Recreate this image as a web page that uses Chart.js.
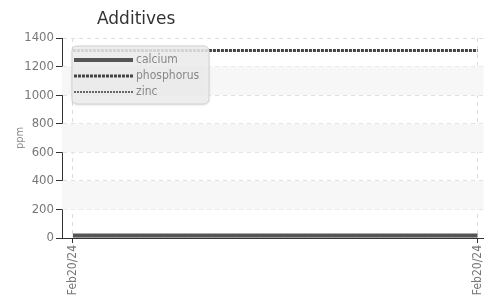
<!DOCTYPE html>
<html>
<head>
<meta charset="utf-8">
<script src="https://cdn.jsdelivr.net/npm/chart.js@4"></script>
<style>
    html, body { margin: 0; padding: 0; background: #fff; }
    #wrap { position: relative; width: 494px; height: 300px; }
    #title {
        position: absolute; left: 97px; top: 8px;
        font: 17px "DejaVu Sans", sans-serif; color: #333;
    }
</style>
</head>
<body>
<div id="wrap">
    <div id="title">Additives</div>
    <canvas id="chart" width="494" height="300"></canvas>
</div>
<script>
// Data
const xTicks = [0, 1];
const xLabels = ['Feb20/24', 'Feb20/24'];
const seriesNames = ['calcium', 'phosphorus', 'zinc'];
const calcium = [18, 18];
const phosphorus = [1312, 1312];
const zinc = [12, 12];
const yTicks = [0, 200, 400, 600, 800, 1000, 1200, 1400];

const tickFont = { family: '"Liberation Sans Narrow", "DejaVu Sans Condensed", "Roboto", sans-serif', size: 13 };

// alternating shaded bands behind the plot
const bandsPlugin = {
    id: 'bands',
    beforeDatasetsDraw(chart) {
        const { ctx, chartArea, scales } = chart;
        ctx.save();
        ctx.fillStyle = '#f7f7f7';
        for (let i = 1; i < yTicks.length - 1; i += 2) {
            const top = scales.y.getPixelForValue(yTicks[i + 1]);
            const bottom = scales.y.getPixelForValue(yTicks[i]);
            ctx.fillRect(chartArea.left, top, chartArea.right - chartArea.left, bottom - top);
        }
        ctx.restore();
    }
};

// floating legend box in the top-left corner of the plot
const boxLegend = {
    id: 'boxLegend',
    afterDatasetsDraw(chart) {
        const { ctx, chartArea } = chart;
        const x = chartArea.left + 10, y = chartArea.top + 8, w = 137, h = 58, r = 5;
        ctx.save();
        ctx.shadowColor = 'rgba(0,0,0,0.15)';
        ctx.shadowBlur = 3;
        ctx.shadowOffsetY = 1;
        ctx.beginPath();
        ctx.roundRect(x, y, w, h, r);
        ctx.fillStyle = 'rgba(238,238,238,0.85)';
        ctx.fill();
        ctx.shadowColor = 'transparent';
        ctx.strokeStyle = '#d0d0d0';
        ctx.lineWidth = 1;
        ctx.stroke();

        ctx.font = '12px ' + tickFont.family;
        ctx.textBaseline = 'middle';
        chart.data.datasets.forEach((ds, i) => {
            const ly = y + 14 + i * 16;
            ctx.beginPath();
            ctx.setLineDash(ds.borderDash || []);
            ctx.lineWidth = ds.borderWidth;
            ctx.strokeStyle = ds.borderColor;
            ctx.moveTo(x + 2, ly);
            ctx.lineTo(x + 61, ly);
            ctx.stroke();
            ctx.setLineDash([]);
            ctx.fillStyle = '#888';
            ctx.fillText(ds.label, x + 64, ly);
        });
        ctx.restore();
    }
};

const toPoints = vals => vals.map((v, i) => ({ x: xTicks[i], y: v }));

new Chart(document.getElementById('chart'), {
    type: 'line',
    data: {
        datasets: [
            { label: seriesNames[0], data: toPoints(calcium), borderColor: '#555', borderWidth: 4, pointRadius: 0 },
            { label: seriesNames[1], data: toPoints(phosphorus), borderColor: '#444', borderWidth: 3, borderDash: [3, 1], pointRadius: 0 },
            { label: seriesNames[2], data: toPoints(zinc), borderColor: '#666', borderWidth: 2, borderDash: [2, 1], pointRadius: 0 }
        ]
    },
    options: {
        responsive: false,
        animation: false,
        layout: { padding: { top: 38, right: 4, left: 0, bottom: 0 } },
        plugins: {
            legend: { display: false },
            tooltip: { enabled: false }
        },
        scales: {
            x: {
                type: 'linear',
                min: -0.027,
                max: 1.015,
                afterBuildTicks: scale => { scale.ticks = xTicks.map(v => ({ value: v })); },
                afterFit: scale => { scale.height = 62; },
                ticks: {
                    color: '#777',
                    font: { family: tickFont.family, size: 12 },
                    minRotation: 90,
                    maxRotation: 90,
                    padding: 2,
                    callback: (v, i) => xLabels[i]
                },
                grid: { color: '#ddd', tickColor: '#333', tickLength: 5, tickBorderDash: [] },
                border: { color: '#333', dash: [4, 4] }
            },
            y: {
                min: 0,
                max: 1400,
                afterBuildTicks: scale => { scale.ticks = yTicks.map(v => ({ value: v })); },
                afterFit: scale => { scale.width = 62; },
                ticks: { color: '#777', font: tickFont, padding: 2, callback: v => String(v) },
                grid: { color: '#ddd', tickColor: '#333', tickLength: 6, tickBorderDash: [] },
                border: { color: '#333', dash: [4, 4] },
                title: { display: true, text: 'ppm', color: '#888', font: { family: tickFont.family, size: 11 }, padding: { top: 14, bottom: 0 } }
            }
        }
    },
    plugins: [bandsPlugin, boxLegend]
});
</script>
</body>
</html>
